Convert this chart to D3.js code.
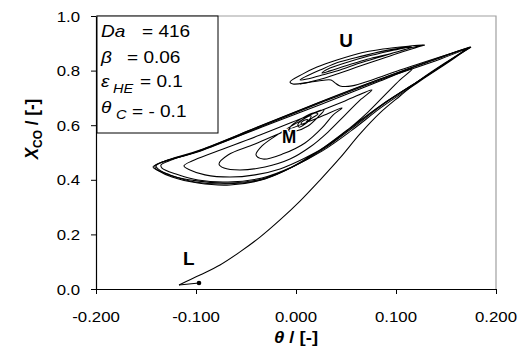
<!DOCTYPE html>
<html><head><meta charset="utf-8">
<script src="https://cdn.jsdelivr.net/npm/d3@7"></script>
<style>body{margin:0;background:#fff}svg{display:block}text{font-family:"Liberation Sans",Arial,sans-serif;fill:#000}</style>
</head><body>
<svg id="c" width="520" height="349"></svg>
<script>
// ---- data ----
const xTicks = [-0.2, -0.1, 0, 0.1, 0.2];
const xTickLabels = ["-0.200", "-0.100", "0.000", "0.100", "0.200"];
const yTicks = [0, 0.2, 0.4, 0.6, 0.8, 1.0];
const yTickLabels = ["0.0", "0.2", "0.4", "0.6", "0.8", "1.0"];

// trajectory spiralling from the upper-right tip into the focus M
const spiralM = [
  [0.175,0.886],[0.124,0.766],[0.084,0.670],[0.054,0.590],[0.024,0.509],[-0.006,0.443],[-0.036,0.399],[-0.071,0.385],[-0.101,0.392],[-0.126,0.418],[-0.140,0.440],[-0.141,0.451],[-0.131,0.469],[-0.096,0.509],[-0.036,0.597],[0.024,0.685],[0.084,0.769],[0.144,0.846],[0.170,0.879],
  [0.124,0.762],[0.086,0.667],[0.056,0.582],[0.026,0.505],[-0.004,0.447],[-0.034,0.407],[-0.068,0.392],[-0.098,0.399],[-0.120,0.421],[-0.134,0.443],[-0.135,0.454],[-0.124,0.473],[-0.091,0.513],[-0.034,0.593],[0.026,0.678],[0.084,0.762],[0.116,0.806],
  [0.104,0.766],[0.089,0.711],[0.072,0.648],[0.054,0.590],[0.034,0.531],[0.009,0.480],[-0.016,0.440],[-0.041,0.418],[-0.066,0.410],[-0.091,0.418],[-0.106,0.436],[-0.112,0.451],[-0.104,0.469],[-0.081,0.502],[-0.036,0.564],[0.009,0.630],[0.049,0.689],[0.076,0.729],
  [0.064,0.692],[0.049,0.637],[0.032,0.575],[0.014,0.520],[-0.006,0.476],[-0.031,0.447],[-0.056,0.436],[-0.072,0.443],[-0.077,0.458],[-0.068,0.491],[-0.041,0.531],[-0.006,0.586],[0.024,0.630],[0.046,0.663],
  [0.037,0.637],[0.026,0.590],[0.009,0.535],[-0.013,0.495],[-0.033,0.476],[-0.040,0.491],[-0.034,0.524],[-0.016,0.571],[0.004,0.615],[0.020,0.648],[0.028,0.656],
  [0.022,0.630],[0.012,0.597],[0.000,0.579],[-0.007,0.579],[-0.005,0.597],[0.005,0.623],[0.017,0.645],[0.022,0.641],
  [0.016,0.626],[0.009,0.604],[0.003,0.593],[0.002,0.604],[0.008,0.623],[0.015,0.634],
  [0.013,0.619],[0.007,0.604],[0.005,0.608],[0.009,0.619],[0.012,0.619],[0.010,0.612]
];
// outer large loops
const outerLoop = [
  [0.172,0.883],[0.129,0.777],[0.089,0.681],[0.059,0.597],[0.029,0.516],[-0.001,0.451],[-0.031,0.403],[-0.066,0.381],[-0.098,0.388],[-0.124,0.410],[-0.139,0.436],[-0.143,0.447],[-0.136,0.462],[-0.096,0.505],[-0.036,0.593],[0.024,0.681],[0.084,0.766],[0.144,0.842],[0.175,0.886]
];
const outerLoop2 = [
  [0.174,0.886],[0.126,0.769],[0.087,0.678],[0.056,0.593],[0.026,0.513],[-0.004,0.447],[-0.034,0.403],[-0.068,0.388],[-0.099,0.396],[-0.124,0.414],[-0.138,0.440],[-0.140,0.451],[-0.133,0.465],[-0.098,0.505],[-0.038,0.593],[0.022,0.681],[0.082,0.766],[0.142,0.846],[0.174,0.886]
];
// elongated spiral around U
const spiralU = [
  [0.109,0.883],[0.094,0.872],[0.069,0.850],[0.049,0.828],[0.032,0.806],[0.026,0.791],[0.034,0.799],[0.049,0.817],[0.069,0.839],[0.089,0.857],[0.104,0.872],[0.116,0.886],
  [0.092,0.875],[0.066,0.853],[0.044,0.832],[0.024,0.802],[0.009,0.777],[0.004,0.766],[0.011,0.769],[0.026,0.784],[0.044,0.802],[0.064,0.828],[0.084,0.850],[0.104,0.872],[0.122,0.890],[0.128,0.894],
  [0.114,0.890],[0.087,0.879],[0.061,0.861],[0.041,0.839],[0.021,0.813],[0.007,0.788],[-0.006,0.758],[-0.003,0.751],[0.009,0.755],[0.029,0.773],[0.044,0.791],[0.061,0.813],[0.082,0.839],[0.102,0.864],[0.119,0.883],[0.129,0.894]
];
// trajectory leaving the U region towards the tip
const connector = [
  [0.004,0.751],[0.022,0.762],[0.035,0.766],[0.039,0.755],[0.044,0.744],[0.056,0.744],[0.076,0.766],[0.104,0.802],[0.144,0.850],[0.175,0.886]
];
// trajectory to the low-conversion steady state L
const pathL = [
  [0.175,0.886],[0.149,0.828],[0.124,0.766],[0.104,0.707],[0.084,0.645],[0.064,0.568],[0.044,0.480],[0.024,0.399],[0.004,0.322],[-0.016,0.253],[-0.036,0.190],[-0.056,0.136],[-0.076,0.088],[-0.096,0.051],[-0.117,0.015]
];
const pathLTail = [[-0.117,0.015],[-0.097,0.022]];
const steadyL = [-0.097, 0.022];
const pointLabels = ["U", "M", "L"];
const pointLabelPos = [[0.050, 0.886], [-0.007, 0.535], [-0.113, 0.088]];

// ---- drawing ----
const svg = d3.select("#c");
const SX = 1.12;
const x = d3.scaleLinear().domain([-0.2, 0.2]).range([96, 496]);
const y = d3.scaleLinear().domain([0, 1]).range([289, 16]);

// frame (top/right)
svg.append("path").attr("d", `M${x(-0.2)},${y(1)}H${x(0.2)}V${y(0)}`)
  .attr("fill", "none").attr("stroke", "#a0a0a0").attr("stroke-width", 1.2);

const line = d3.line().x(d => x(d[0])).y(d => y(d[1])).curve(d3.curveCatmullRom.alpha(0.5));
const g = svg.append("g").attr("fill", "none").attr("stroke", "#000").attr("stroke-width", 1.05);
[outerLoop, outerLoop2, spiralM, spiralU, connector, pathL].forEach(p => g.append("path").attr("d", line(p)));
g.append("path").attr("d", d3.line().x(d => x(d[0])).y(d => y(d[1]))(pathLTail));

svg.append("circle").attr("cx", x(steadyL[0])).attr("cy", y(steadyL[1])).attr("r", 2.3).attr("fill", "#000");

// axes
svg.append("g").attr("transform", `translate(0,${y(0)})`)
  .call(d3.axisBottom(x).tickValues(xTicks).tickSize(5).tickSizeOuter(0).tickFormat(""));
svg.append("g").attr("transform", `translate(${x(-0.2)},0)`)
  .call(d3.axisLeft(y).tickValues(yTicks).tickSize(5).tickSizeOuter(0).tickFormat(""));
svg.selectAll(".domain").attr("stroke", "#000").attr("stroke-width", 1.2);
svg.selectAll(".tick line").attr("stroke", "#000");

xTicks.forEach((d, i) => svg.append("text")
  .attr("transform", `translate(${x(d)},321.5) scale(${SX},1)`)
  .attr("text-anchor", "middle").attr("font-size", 15).text(xTickLabels[i]));
yTicks.forEach((d, i) => svg.append("text")
  .attr("transform", `translate(80,${y(d) + 5.5}) scale(${SX},1)`)
  .attr("text-anchor", "end").attr("font-size", 15).text(yTickLabels[i]));

// axis titles
const xt = svg.append("text").attr("transform", `translate(296,343) scale(${SX},1)`)
  .attr("text-anchor", "middle").attr("font-size", 16.5).attr("font-weight", "bold");
xt.append("tspan").attr("font-style", "italic").text("θ");
xt.append("tspan").text(" / [-]");
const yt = svg.append("text").attr("transform", `translate(38,129) scale(${SX},1) rotate(-90)`)
  .attr("text-anchor", "middle").attr("font-size", 17).attr("font-weight", "bold");
yt.append("tspan").attr("font-style", "italic").text("X");
yt.append("tspan").attr("font-size", 12).attr("dy", 4).text("CO");
yt.append("tspan").attr("dy", -4).text(" / [-]");

// parameter box
svg.append("rect").attr("x", 97).attr("y", 16).attr("width", 121).attr("height", 117)
  .attr("fill", "#fff").attr("stroke", "#000").attr("stroke-width", 1);
function t(sx, by, str, opts = {}) {
  const e = svg.append("text").attr("transform", `translate(${sx},${by}) scale(${SX},1)`)
    .attr("font-size", opts.size || 17).text(str);
  if (opts.italic) e.attr("font-style", "italic");
  return e;
}
t(101, 37, "Da", {italic: true});
t(142, 37, "= 416");
t(101, 63, "β", {italic: true});
t(127, 63, "= 0.06");
t(101, 87, "ε", {italic: true});
t(113, 93, "HE", {italic: true, size: 13});
t(140, 87, "= 0.1");
t(101, 113, "θ", {italic: true});
t(116, 119, "C", {italic: true, size: 13});
t(132, 116.5, "= - 0.1");

// point labels
pointLabels.forEach((s, i) => {
  const p = pointLabelPos[i];
  svg.append("text").attr("transform", `translate(${x(p[0])},${y(p[1])}) scale(${i === 1 ? 0.95 : 1.05},1)`)
    .attr("text-anchor", i === 2 ? "start" : "middle")
    .attr("font-size", 18).attr("font-weight", "bold")
    .attr("stroke", "#fff").attr("stroke-width", i === 1 ? 3 : 0).attr("paint-order", "stroke")
    .text(s);
});
</script>
</body></html>
